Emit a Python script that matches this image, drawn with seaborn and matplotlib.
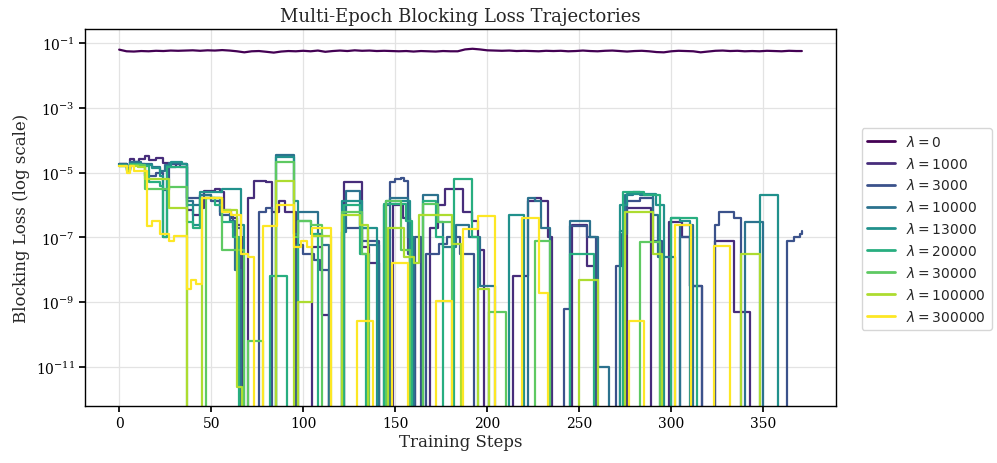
import numpy as np
import pandas as pd
import matplotlib
matplotlib.use("Agg")
import matplotlib.pyplot as plt
import seaborn as sns
from matplotlib.ticker import FixedLocator, LogFormatterSciNotation, NullLocator

LAMBDAS = [0, 1000, 3000, 10000, 13000, 20000, 30000, 100000, 300000]

# lambda = 0 stays around 6e-2 (sampled every 4 steps)
lam0_steps = [0, 4, 8, 12, 16, 20, 24, 28, 32, 36, 40, 44, 48, 52, 56, 60, 64, 68, 72, 76,
              80, 84, 88, 92, 96, 100, 104, 108, 112, 116, 120, 124, 128, 132, 136, 140,
              144, 148, 152, 156, 160, 164, 168, 172, 176, 180, 184, 188, 192, 196, 200,
              204, 208, 212, 216, 220, 224, 228, 232, 236, 240, 244, 248, 252, 256, 260,
              264, 268, 272, 276, 280, 284, 288, 292, 296, 300, 304, 308, 312, 316, 320,
              324, 328, 332, 336, 340, 344, 348, 352, 356, 360, 364, 368, 371]
lam0_loss = [6.3e-2, 5.6e-2, 5.5e-2, 5.7e-2, 5.6e-2, 5.8e-2, 5.7e-2, 5.9e-2, 5.8e-2, 5.9e-2,
             6.0e-2, 5.8e-2, 6.0e-2, 5.9e-2, 6.1e-2, 5.9e-2, 5.6e-2, 5.2e-2, 5.6e-2, 5.7e-2,
             5.4e-2, 5.1e-2, 5.5e-2, 5.7e-2, 5.6e-2, 5.8e-2, 5.6e-2, 5.9e-2, 5.4e-2, 5.7e-2,
             5.9e-2, 5.7e-2, 6.0e-2, 5.8e-2, 5.9e-2, 5.7e-2, 5.8e-2, 5.7e-2, 5.6e-2, 5.7e-2,
             5.5e-2, 5.7e-2, 5.6e-2, 5.5e-2, 5.7e-2, 5.6e-2, 5.6e-2, 6.4e-2, 6.7e-2, 6.4e-2,
             6.0e-2, 5.9e-2, 5.8e-2, 5.9e-2, 5.7e-2, 5.8e-2, 5.7e-2, 5.6e-2, 5.8e-2, 5.7e-2,
             5.8e-2, 5.6e-2, 5.7e-2, 5.9e-2, 5.7e-2, 5.6e-2, 5.8e-2, 5.9e-2, 5.7e-2, 5.5e-2,
             5.7e-2, 5.8e-2, 5.6e-2, 5.3e-2, 5.2e-2, 5.6e-2, 5.8e-2, 5.7e-2, 5.6e-2, 5.2e-2,
             5.5e-2, 5.8e-2, 5.9e-2, 5.7e-2, 5.8e-2, 5.6e-2, 5.7e-2, 5.6e-2, 5.8e-2, 5.7e-2,
             5.6e-2, 5.8e-2, 5.7e-2, 5.7e-2]

# other runs: (step where value starts, loss held until next step); 0.0 = loss went to zero
lam1000 = [(0, 1.9e-5), (4, 1.4e-5), (6, 2.7e-5), (8, 2.2e-5), (11, 2.6e-5), (14, 3.3e-5),
           (16, 2.4e-5), (20, 2.8e-5), (24, 2.0e-5), (27, 1.5e-5), (31, 1.8e-5), (37, 7.0e-7),
           (40, 5.0e-7), (44, 8.0e-7), (46, 2.8e-6), (52, 3.2e-6), (55, 2.5e-6), (57, 7.0e-7),
           (61, 4.0e-7), (64, 2.5e-7), (66, 1.0e-7), (67, 0.0),
           (70, 1.6e-6), (73, 5.6e-6), (80, 5.0e-6), (83, 6.3e-7), (87, 1.3e-6), (90, 6.3e-7), (96, 0.0),
           (105, 5.0e-8), (110, 4.0e-10), (114, 0.0),
           (122, 5.0e-6), (132, 5.0e-8), (136, 1.6e-8), (141, 0.0),
           (149, 1.0e-6), (154, 4.0e-7), (158, 1.6e-8), (161, 0.0),
           (169, 2.0e-7), (173, 1.0e-6), (177, 3.2e-6), (187, 6.3e-7), (192, 3.2e-7), (195, 4.0e-8), (198, 0.0),
           (214, 6.3e-9), (222, 1.3e-6), (226, 1.6e-6), (229, 1.3e-6), (233, 1.0e-7), (235, 0.0),
           (246, 2.5e-7), (254, 1.3e-8), (259, 0.0),
           (276, 8.0e-7), (289, 0.0),
           (299, 3.0e-7), (306, 1.0e-7), (310, 3.2e-9), (317, 0.0),
           (324, 8.0e-8), (334, 5.0e-10), (343, 0.0), (371, 0.0)]

lam3000 = [(0, 1.8e-5), (4, 1.2e-5), (6, 2.2e-5), (10, 1.9e-5), (14, 8.0e-6), (20, 1.0e-5),
           (24, 3.0e-6), (27, 1.8e-5), (33, 1.5e-5), (37, 1.6e-6), (44, 2.0e-6), (50, 1.3e-6),
           (55, 5.0e-7), (62, 2.0e-7), (66, 0.0),
           (76, 6.3e-7), (80, 8.0e-7), (83, 0.0),
           (96, 6.0e-8), (100, 3.2e-8), (106, 2.0e-8), (109, 1.0e-8), (114, 0.0),
           (122, 2.0e-7), (132, 8.0e-8), (141, 0.0),
           (144, 1.0e-6), (147, 5.0e-6), (150, 6.3e-6), (153, 7.0e-6), (155, 5.6e-6), (157, 3.2e-8), (160, 0.0),
           (161, 1.0e-7), (164, 0.0), (167, 3.2e-8), (174, 6.3e-8), (178, 1.0e-7), (185, 3.2e-8), (193, 0.0),
           (242, 6.3e-10), (245, 2.2e-7), (254, 1.0e-7), (259, 0.0),
           (270, 1.3e-8), (273, 1.3e-7), (276, 1.3e-6), (283, 1.6e-6), (290, 8.0e-8), (295, 0.0),
           (305, 1.0e-7), (310, 3.2e-9), (317, 0.0),
           (324, 2.5e-7), (326, 6.3e-7), (334, 4.0e-7), (338, 0.0),
           (363, 8.0e-8), (367, 1.0e-7), (370, 1.3e-7), (371, 1.6e-7)]

lam10000 = [(0, 1.8e-5), (4, 1.3e-5), (6, 2.1e-5), (12, 1.9e-5), (18, 1.5e-5), (22, 1.1e-5),
            (25, 1.7e-5), (27, 2.0e-5), (33, 1.8e-5), (37, 1.3e-6), (40, 1.0e-6), (44, 2.0e-6),
            (50, 1.6e-6), (55, 6.3e-7), (60, 3.2e-7), (63, 1.0e-8), (66, 0.0),
            (85, 3.5e-5), (95, 1.3e-7), (97, 6.3e-7), (108, 1.3e-7), (110, 6.0e-8), (114, 0.0),
            (121, 1.5e-7), (123, 2.8e-6), (131, 2.0e-7), (135, 6.0e-8), (141, 0.0),
            (147, 1.6e-6), (157, 1.0e-7), (160, 0.0),
            (165, 2.0e-6), (173, 3.0e-7), (176, 5.0e-8), (183, 2.5e-7), (190, 1.0e-7), (196, 3.2e-9), (204, 0.0),
            (222, 1.6e-6), (226, 1.3e-6), (229, 2.0e-7), (234, 0.0),
            (245, 3.2e-7), (256, 1.0e-7), (260, 1.0e-11), (266, 0.0),
            (272, 1.6e-7), (275, 2.0e-6), (279, 2.5e-6), (283, 2.0e-6), (290, 5.0e-7), (293, 2.5e-8), (302, 0.0),
            (305, 2.5e-7), (312, 0.0),
            (340, 3.0e-7), (350, 0.0), (371, 0.0)]

lam13000 = [(0, 1.7e-5), (4, 1.3e-5), (6, 1.9e-5), (12, 1.7e-5), (18, 1.4e-5), (22, 8.0e-6),
            (24, 1.0e-7), (26, 1.6e-5), (28, 2.1e-5), (34, 1.9e-5), (37, 1.0e-6), (40, 2.5e-7),
            (44, 2.5e-6), (56, 3.2e-6), (66, 2.5e-7), (68, 0.0),
            (85, 3.0e-5), (95, 1.3e-6), (97, 0.0),
            (121, 1.3e-6), (132, 2.0e-7), (140, 0.0),
            (145, 1.3e-6), (158, 0.0),
            (212, 5.0e-7), (220, 0.0),
            (272, 1.0e-6), (276, 2.2e-6), (292, 1.0e-6), (296, 0.0),
            (300, 4.0e-7), (305, 3.2e-7), (310, 0.0),
            (348, 2.1e-6), (358, 0.0), (371, 0.0)]

lam20000 = [(0, 1.6e-5), (4, 1.2e-5), (6, 1.8e-5), (12, 1.6e-5), (16, 5.0e-6), (22, 4.0e-6),
            (24, 1.0e-7), (26, 1.5e-5), (37, 3.0e-7), (40, 2.0e-7), (44, 1.6e-6), (52, 1.0e-6),
            (56, 3.0e-7), (62, 1.0e-7), (65, 0.0),
            (82, 6.3e-9), (91, 0.0),
            (97, 3.2e-7), (104, 1.3e-7), (108, 0.0),
            (122, 1.0e-6), (131, 3.0e-8), (134, 0.0),
            (144, 1.1e-6), (156, 3.2e-7), (159, 0.0),
            (165, 1.3e-6), (172, 1.0e-7), (176, 0.0),
            (182, 6.3e-6), (192, 1.0e-7), (195, 0.0),
            (245, 3.2e-8), (258, 0.0),
            (274, 2.5e-6), (285, 2.0e-6), (294, 0.0),
            (300, 4.0e-7), (314, 0.0), (371, 0.0)]

lam30000 = [(0, 1.6e-5), (4, 1.1e-5), (6, 1.7e-5), (14, 3.2e-6), (27, 3.5e-6), (37, 0.0),
            (47, 1.6e-6), (56, 4.0e-8), (68, 0.0),
            (70, 6.3e-11), (78, 0.0),
            (85, 2.2e-5), (95, 1.0e-7), (97, 3.2e-7), (104, 2.5e-7), (110, 0.0),
            (121, 6.3e-7), (132, 3.0e-8), (136, 0.0),
            (145, 1.3e-6), (153, 4.0e-8), (158, 0.0),
            (165, 1.1e-6), (173, 3.0e-7), (181, 0.0),
            (201, 5.0e-10), (210, 0.0),
            (226, 8.0e-8), (234, 0.0),
            (283, 7.0e-8), (294, 0.0), (371, 0.0)]

lam100000 = [(0, 1.6e-5), (4, 1.1e-5), (6, 1.6e-5), (10, 1.5e-5), (14, 6.3e-6), (27, 8.0e-7), (37, 0.0),
             (45, 1.6e-6), (56, 7.0e-7), (64, 2.5e-12), (67, 0.0),
             (85, 5.6e-6), (95, 0.0),
             (97, 1.0e-9), (105, 1.1e-7), (115, 0.0),
             (121, 5.0e-7), (131, 2.5e-7), (135, 0.0),
             (146, 2.0e-7), (155, 2.5e-8), (160, 1.6e-8), (163, 5.0e-7), (181, 6.3e-8), (186, 0.0),
             (195, 2.5e-9), (201, 0.0),
             (250, 5.0e-9), (260, 0.0),
             (275, 6.3e-7), (290, 3.0e-8), (295, 0.0),
             (338, 3.2e-8), (348, 0.0), (371, 0.0)]

lam300000 = [(0, 1.6e-5), (4, 1.0e-5), (6, 1.6e-5), (8, 1.1e-5), (15, 2.3e-7), (18, 3.2e-7),
             (22, 1.3e-7), (27, 8.0e-8), (30, 1.1e-7), (37, 2.5e-9), (39, 5.0e-9), (42, 3.6e-9),
             (45, 1.6e-6), (56, 6.3e-7), (61, 5.0e-7), (66, 3.2e-8), (70, 2.5e-8), (73, 0.0),
             (78, 2.3e-7), (86, 1.0e-6), (95, 5.0e-8), (99, 8.0e-8), (102, 5.0e-8), (105, 2.0e-7), (115, 0.0),
             (129, 2.7e-10), (138, 0.0),
             (148, 1.6e-8), (157, 0.0),
             (172, 1.1e-9), (181, 0.0),
             (187, 1.8e-7), (195, 4.7e-7), (204, 0.0),
             (219, 4.0e-7), (228, 2.0e-9), (233, 0.0),
             (277, 2.7e-10), (285, 0.0),
             (302, 2.5e-7), (311, 0.0),
             (323, 5.4e-8), (332, 0.0), (371, 0.0)]

step_runs = [lam1000, lam3000, lam10000, lam13000, lam20000, lam30000, lam100000, lam300000]

sns.set_theme(style="whitegrid")
plt.rcParams.update({
    "font.family": ["DejaVu Serif"],
    "axes.edgecolor": "black",
    "axes.linewidth": 1.0,
    "grid.color": "#e3e3e3",
    "grid.linewidth": 0.9,
    "xtick.bottom": True,
    "ytick.left": True,
    "xtick.color": "black",
    "ytick.color": "black",
    "xtick.major.size": 4,
    "ytick.major.size": 4,
})

# full viridis range, endpoints included
colors = [plt.cm.viridis(v) for v in np.linspace(0, 1, len(LAMBDAS))]
labels = [rf"$\lambda = {lam}$" for lam in LAMBDAS]

fig, ax = plt.subplots(figsize=(9.97, 4.64), dpi=100)
fig.subplots_adjust(left=0.0853, right=0.8385, top=0.935, bottom=0.123)

df0 = pd.DataFrame({"step": lam0_steps, "loss": lam0_loss})
sns.lineplot(data=df0, x="step", y="loss", ax=ax, color=colors[0], lw=1.6,
             label=labels[0], estimator=None, sort=False)

for run, color, label in zip(step_runs, colors[1:], labels[1:]):
    df = pd.DataFrame(run, columns=["step", "loss"])
    sns.lineplot(data=df, x="step", y="loss", ax=ax, color=color, lw=1.6,
                 label=label, estimator=None, sort=False, drawstyle="steps-post")

ax.set_yscale("log")
ax.set_xlim(-18.55, 389.55)
ax.set_ylim(6.3e-13, 2.7e-1)
ax.yaxis.set_major_locator(FixedLocator([1e-1, 1e-3, 1e-5, 1e-7, 1e-9, 1e-11]))
ax.yaxis.set_major_formatter(LogFormatterSciNotation())
ax.yaxis.set_minor_locator(NullLocator())
ax.set_xticks([0, 50, 100, 150, 200, 250, 300, 350])
ax.tick_params(labelsize=10)

ax.set_title("Multi-Epoch Blocking Loss Trajectories", fontsize=13)
ax.set_xlabel("Training Steps", fontsize=12, labelpad=2)
ax.set_ylabel("Blocking Loss (log scale)", fontsize=12)

for s in ax.spines.values():
    s.set_color("black")

leg = ax.legend(loc="center left", bbox_to_anchor=(1.025, 0.47),
                prop={"family": "DejaVu Sans", "size": 10}, frameon=True)
leg.get_frame().set_edgecolor("#cccccc")
for line in leg.get_lines():
    line.set_linewidth(2.0)

fig.savefig("out.png", dpi=100)
